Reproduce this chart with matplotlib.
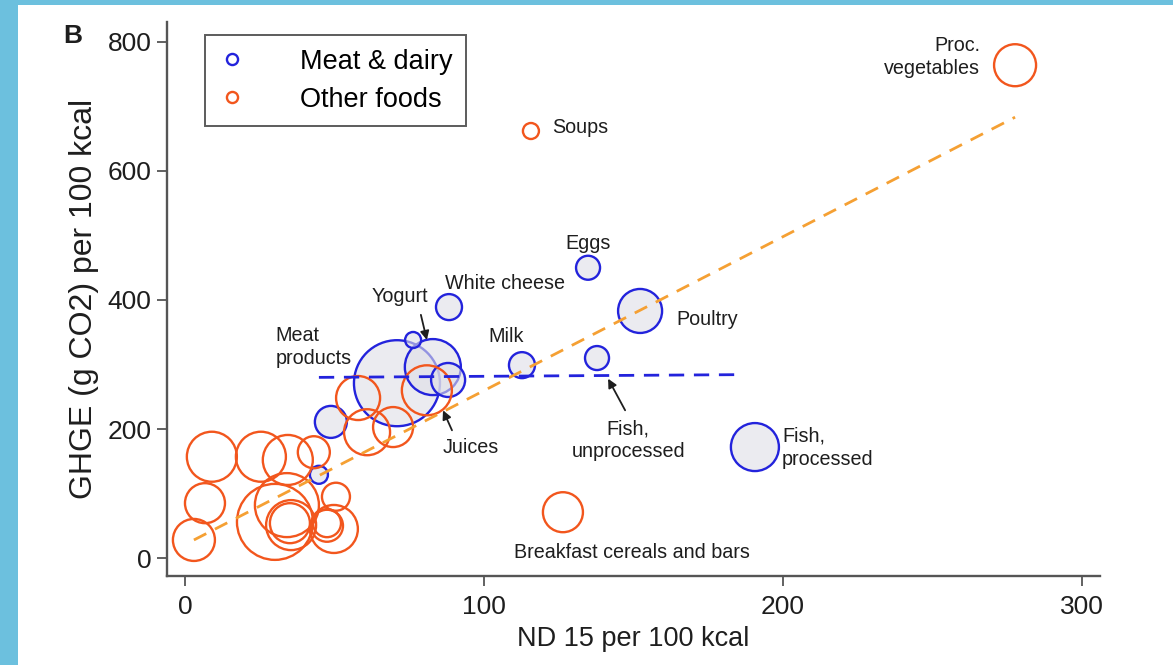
import matplotlib.pyplot as plt
import numpy as np
from matplotlib.lines import Line2D
from matplotlib.patches import Rectangle

# meat & dairy food groups: ND 15 per 100 kcal, GHGE per 100 kcal, bubble weight
meat_x = [44.8, 48.8, 70.9, 82.9, 88.0, 76.3, 88.3, 112.7, 134.8, 152.2, 137.8, 190.6]
meat_y = [129, 211, 271, 296, 276, 338, 389, 299, 450, 383, 310, 172]
meat_w = [9, 16, 43, 28, 17, 8, 13, 13, 12, 22, 12, 24]

# other food groups
other_x = [3.0, 6.7, 9.0, 25.4, 34.4, 43.1, 30.1, 34.1, 35.5, 35.1, 50.5, 49.8,
           47.5, 47.5, 57.9, 60.9, 69.6, 80.9, 115.7, 277.6, 126.4]
other_y = [28, 85, 157, 157, 152, 164, 56, 82, 51, 54, 95, 45,
           50, 54, 248, 195, 203, 260, 662, 764, 71]
other_w = [21, 20, 25, 25, 25, 16, 38, 32, 25, 20, 14, 24,
           16, 14, 22, 23, 20, 25, 8, 21, 20]

# linear fits (intercept, slope)
meat_fit = (278.7, 0.03)
other_fit = (20.8, 2.387)

BLUE = "#2323DC"
ORANGE = "#F2561D"
FIT_ORANGE = "#F5A033"
TEXT = "#1E1E1E"
AXIS = "#555555"
FRAME = "#6CC0DE"

plt.rcParams["font.family"] = ["Liberation Sans", "DejaVu Sans"]

W, H = 1173, 665
fig = plt.figure(figsize=(W / 100, H / 100), dpi=100)
fig.patch.set_facecolor(FRAME)
fig.patches.append(Rectangle((18 / W, 0), 1, (H - 5) / H, transform=fig.transFigure,
                             facecolor="white", edgecolor="none", zorder=-10))

ax = fig.add_axes([167 / W, (H - 576) / H, 933 / W, 554 / H])
ax.set_facecolor("none")
ax.set_xlim(-6.0, 306.0)
ax.set_ylim(-27.9, 831)


def size(w):
    return (np.asarray(w) * 2 * 0.72) ** 2


ax.scatter(meat_x, meat_y, s=size(meat_w), facecolors=(0.87, 0.87, 0.90, 0.6),
           edgecolors=BLUE, linewidths=1.7, zorder=2)
ax.scatter(other_x, other_y, s=size(other_w), facecolors="none",
           edgecolors=ORANGE, linewidths=1.7, zorder=3)

xs = np.array([min(other_x), max(other_x)])
ax.plot(xs, other_fit[0] + other_fit[1] * xs, color=FIT_ORANGE, lw=2.0,
        dashes=(5, 3.5), zorder=4)
xs = np.array([min(meat_x), max(meat_x) - 4])
ax.plot(xs, meat_fit[0] + meat_fit[1] * xs, color=BLUE, lw=2.0,
        dashes=(5.5, 3.5), zorder=4)

fs = 14.2
ax.text(265.9, 777, "Proc.\nvegetables", ha="right", va="center", fontsize=fs,
        color=TEXT, linespacing=1.25)
ax.text(122.7, 667, "Soups", ha="left", va="center", fontsize=fs, color=TEXT)
ax.text(134.8, 488, "Eggs", ha="center", va="center", fontsize=fs, color=TEXT)
ax.text(87.0, 426, "White cheese", ha="left", va="center", fontsize=fs, color=TEXT)
ax.text(71.9, 405, "Yogurt", ha="center", va="center", fontsize=fs, color=TEXT)
ax.text(30.4, 327, "Meat\nproducts", ha="left", va="center", fontsize=fs,
        color=TEXT, linespacing=1.25)
ax.text(107.4, 343, "Milk", ha="center", va="center", fontsize=fs, color=TEXT)
ax.text(164.2, 369, "Poultry", ha="left", va="center", fontsize=fs, color=TEXT)
ax.text(86.3, 171, "Juices", ha="left", va="center", fontsize=fs, color=TEXT)
ax.text(148.2, 183, "Fish,\nunprocessed", ha="center", va="center", fontsize=fs,
        color=TEXT, linespacing=1.25)
ax.text(199.7, 171, "Fish,\nprocessed", ha="left", va="center", fontsize=fs,
        color=TEXT, linespacing=1.25)
ax.text(149.5, 8, "Breakfast cereals and bars", ha="center", va="center",
        fontsize=fs, color=TEXT)

arrow = dict(arrowstyle="-|>", color=TEXT, lw=1.3, mutation_scale=13,
             shrinkA=0, shrinkB=0)
ax.annotate("", xy=(80.9, 338), xytext=(78.9, 377), arrowprops=arrow, zorder=5)
ax.annotate("", xy=(86.3, 229), xytext=(89.3, 198), arrowprops=arrow, zorder=5)
ax.annotate("", xy=(141.5, 278), xytext=(147.2, 229), arrowprops=arrow, zorder=5)

for side in ("top", "right"):
    ax.spines[side].set_visible(False)
for side in ("left", "bottom"):
    ax.spines[side].set_color(AXIS)
    ax.spines[side].set_linewidth(1.7)
ax.set_xticks([0, 100, 200, 300])
ax.set_yticks([0, 200, 400, 600, 800])
ax.tick_params(axis="both", colors=AXIS, labelcolor=TEXT, labelsize=19,
               length=7, width=1.3)
ax.tick_params(axis="x", pad=7)
ax.tick_params(axis="y", pad=4)
ax.set_xlabel("ND 15 per 100 kcal", fontsize=19.5, color=TEXT, labelpad=5)
ax.set_ylabel("GHGE (g CO2) per 100 kcal", fontsize=23, color=TEXT, labelpad=6)

handles = [
    Line2D([], [], ls="none", marker="o", ms=8, mfc="none", mec=BLUE, mew=1.7),
    Line2D([], [], ls="none", marker="o", ms=8, mfc="none", mec=ORANGE, mew=1.7),
]
leg = ax.legend(handles, ["Meat & dairy", "Other foods"], loc="upper left",
                bbox_to_anchor=((205 - 167) / 933, (576 - 35) / 554),
                borderaxespad=0, fontsize=19.5, frameon=True, fancybox=False,
                handletextpad=2.0, borderpad=0.5, labelspacing=0.45,
                handlelength=1.0)
leg.get_frame().set_edgecolor("#333333")
leg.get_frame().set_linewidth(1.4)

fig.text(73 / W, 1 - 36 / H, "B", fontsize=19, fontweight="bold", color=TEXT,
         ha="center", va="center")

fig.savefig("out.png", dpi=100)
